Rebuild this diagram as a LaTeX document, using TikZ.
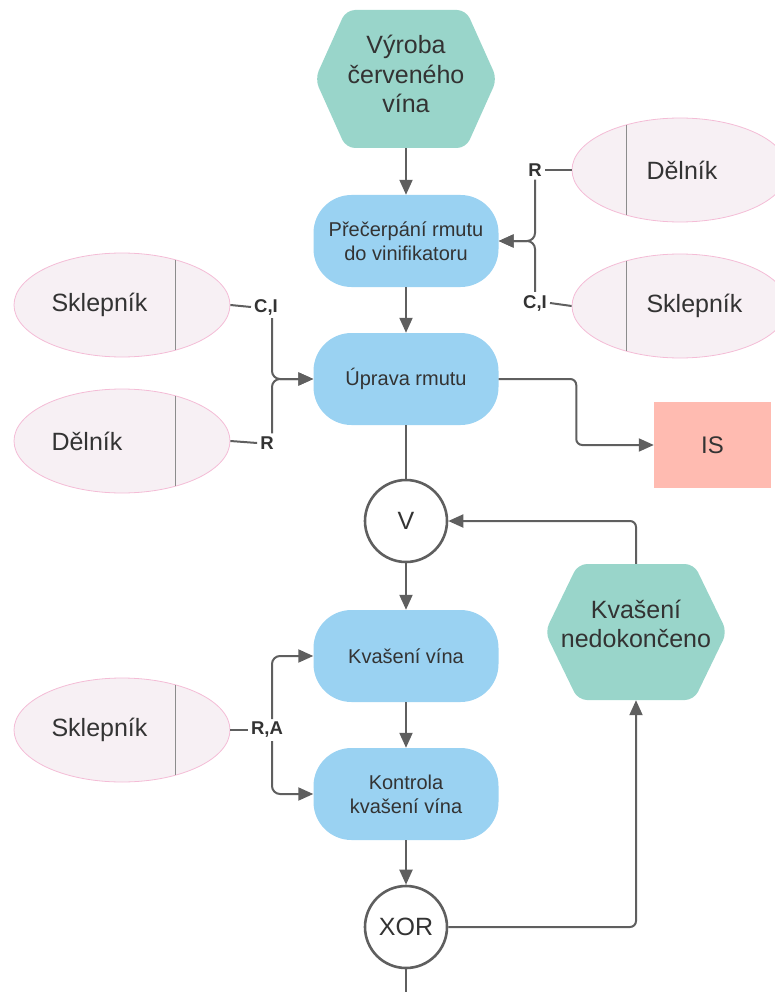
\documentclass[tikz,border=0pt]{standalone}
\usepackage{fontspec}
\setmainfont{Liberation Sans}
\usetikzlibrary{arrows.meta,shapes.geometric,calc}
\definecolor{flowline}{HTML}{5F5F5F}
\definecolor{taskblue}{HTML}{9AD2F2}
\definecolor{eventgreen}{HTML}{99D5CA}
\definecolor{rolefill}{HTML}{F7F0F4}
\definecolor{roleedge}{HTML}{F4BCD6}
\definecolor{divcol}{HTML}{8C8C8C}
\definecolor{isred}{HTML}{FFBBB1}
\definecolor{inktext}{HTML}{333333}

\begin{document}
\begin{tikzpicture}[x=1pt,y=-1pt,
  every node/.style={text=inktext},
  task/.style={fill=taskblue, rounded corners=38pt, minimum width=185pt, minimum height=92pt,
    align=center, font=\fontsize{20}{24}\selectfont, inner sep=0pt},
  eventnode/.style={minimum width=182pt, minimum height=138pt, inner sep=0pt},
  eventtext/.style={align=center, font=\fontsize{25}{29.5}\selectfont},
  hexfill/.style={fill=eventgreen, rounded corners=9pt},
  role/.style={ellipse, fill=rolefill, draw=roleedge, line width=0.8pt,
    minimum width=216pt, minimum height=104pt, inner sep=0pt},
  roletext/.style={anchor=west, font=\fontsize{25}{30}\selectfont},
  divider/.style={draw=divcol, line width=1pt},
  gate/.style={circle, draw=flowline, line width=2.6pt, fill=white, minimum size=82pt,
    inner sep=0pt, font=\fontsize{25}{30}\selectfont},
  raci/.style={font=\fontsize{18.5}{22}\selectfont\bfseries, inner sep=3pt},
  link/.style={draw=flowline, line width=2pt},
  flow/.style={link, -{Triangle[length=15pt,width=13pt]}},
]
\useasboundingbox (0,0) rectangle (775,992);

% event hexagons
\fill[hexfill, shift={(406,79)}] (0,-69) -- (60,-69) -- (91,0) -- (60,69) -- (-60,69) -- (-91,0) -- (-60,-69) -- cycle;
\fill[hexfill, shift={(636,632)}] (0,-68) -- (58,-68) -- (91,0) -- (58,68) -- (-58,68) -- (-91,0) -- (-58,-68) -- cycle;
\node[eventnode] (start) at (406,79) {};
\node[eventtext] (starttext) at (406,74) {Výroba\\červeného\\vína};
\node[eventnode, minimum height=136pt] (kn) at (636,632) {};
\node[eventtext] (kntext) at (636,624) {Kvašení\\nedokončeno};

% process steps and gates
\node[task] (p1) at (406,241) {Přečerpání rmutu\\do vinifikatoru};
\node[task] (up) at (406,379) {Úprava rmutu};
\node[gate] (v) at (406,521) {V};
\node[task] (kv) at (406,656) {Kvašení vína};
\node[task] (ko) at (406,794) {Kontrola\\kvašení vína};
\node[gate] (xor) at (406,927) {XOR};
\node[fill=isred, minimum width=117pt, minimum height=86pt, font=\fontsize{24}{28}\selectfont] (is) at (712.5,445) {IS};

% roles
\node[role] (rd1) at (680,170) {};
\node[role] (rs1) at (680,306) {};
\node[role] (ls1) at (122,305) {};
\node[role] (ld1) at (122,441) {};
\node[role] (ls2) at (122,730) {};
\foreach \r in {rd1,rs1} {
  \draw[divider] ($(\r.center)+(-54,-45)$) -- ($(\r.center)+(-54,45)$);
}
\foreach \r in {ls1,ld1,ls2} {
  \draw[divider] ($(\r.center)+(53,-45)$) -- ($(\r.center)+(53,45)$);
}
\node[roletext] (rd1t) at (643,170) {Dělník};
\node[roletext] (rs1t) at (643,306) {Sklepník};
\node[roletext] (ls1t) at (48,305) {Sklepník};
\node[roletext] (ld1t) at (48,441) {Dělník};
\node[roletext] (ls2t) at (48,730) {Sklepník};

% responsibility labels
\node[raci] (r1) at (535,170) {R};
\node[raci] (ci1) at (535,303) {C,I};
\node[raci] (ci2) at (266,307) {C,I};
\node[raci] (r2) at (267,443) {R};
\node[raci] (ra) at (267,730) {R,A};
\coordinate (bxl) at (272,0);

% main flow
\draw[flow] (start.south) -- (p1.north);
\draw[flow] (p1.south) -- (up.north);
\draw[link] (up.south) -- (v.north);
\draw[flow] (v.south) -- (kv.north);
\draw[flow] (kv.south) -- (ko.north);
\draw[flow] (ko.south) -- (xor.north);
\coordinate (exit) at (406,992);
\draw[link] (xor.south) -- (exit);
\draw[flow, rounded corners=6pt] (xor.east) -| (kn.south);
\draw[flow, rounded corners=6pt] (kn.north) |- (v.east);
\coordinate (isbend) at ($(up.east)!0.5!(is.west)$);
\draw[flow, rounded corners=6pt] (up.east) -| (isbend) |- (is.west);

% role assignments
\draw[link] (rd1.west) -- (r1.east);
\draw[flow, rounded corners=8pt] (r1.south) |- (p1.east);
\draw[link] (rs1.west) -- (ci1.east);
\draw[flow, rounded corners=8pt] (ci1.north) |- (p1.east);

\draw[link] (ls1.east) -- (ci2.west);
\draw[flow, rounded corners=8pt] (ci2.south -| bxl) |- (up.west);
\draw[link] (ld1.east) -- (r2.west);
\draw[flow, rounded corners=8pt] (r2.north -| bxl) |- (up.west);

\draw[link] (ls2.east) -- (ra.west);
\draw[flow, rounded corners=8pt] (ra.north -| bxl) |- (kv.west);
\draw[flow, rounded corners=8pt] (ra.south -| bxl) |- (ko.west);
\end{tikzpicture}
\end{document}
